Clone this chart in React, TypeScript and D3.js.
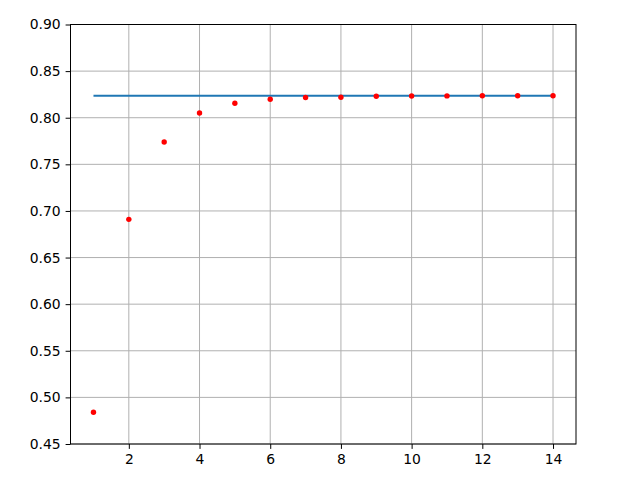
import React, { useEffect, useRef } from 'react';
import * as d3 from 'd3';

const xs = [1, 2, 3, 4, 5, 6, 7, 8, 9, 10, 11, 12, 13, 14];
const scores = [0.484, 0.691, 0.774, 0.805, 0.8155, 0.8198, 0.8217, 0.822, 0.823, 0.8233, 0.8234, 0.8235, 0.8235, 0.8235];
const baseline = 0.8236;
const xTicks = [2, 4, 6, 8, 10, 12, 14];
const yTicks = [0.45, 0.5, 0.55, 0.6, 0.65, 0.7, 0.75, 0.8, 0.85, 0.9];

const App: React.FC = () => {
  const svgRef = useRef<SVGSVGElement>(null);

  useEffect(() => {
    if (!svgRef.current) return;
    const width = 640;
    const height = 480;
    const margin = { top: 24.5, right: 64, bottom: 36, left: 70.5 };
    const w = width - margin.left - margin.right;
    const h = height - margin.top - margin.bottom;

    const svg = d3.select(svgRef.current);
    svg.selectAll('*').remove();

    const g = svg.append('g').attr('transform', `translate(${margin.left},${margin.top})`);

    const x = d3.scaleLinear().domain([0.35, 14.65]).range([0, w]);
    const y = d3.scaleLinear().domain([0.45, 0.9]).range([h, 0]);

    // grid
    g.append('g')
      .selectAll('line.gx')
      .data(xTicks)
      .enter().append('line')
      .attr('x1', d => x(d)).attr('x2', d => x(d))
      .attr('y1', 0).attr('y2', h)
      .attr('stroke', '#b0b0b0').attr('stroke-width', 1);
    g.append('g')
      .selectAll('line.gy')
      .data(yTicks)
      .enter().append('line')
      .attr('x1', 0).attr('x2', w)
      .attr('y1', d => y(d)).attr('y2', d => y(d))
      .attr('stroke', '#b0b0b0').attr('stroke-width', 1);

    // baseline
    const line = d3.line<number>()
      .x(d => x(d))
      .y(() => y(baseline));
    g.append('path')
      .datum([xs[0], xs[xs.length - 1]])
      .attr('fill', 'none')
      .attr('stroke', '#1f77b4')
      .attr('stroke-width', 2)
      .attr('d', line);

    // points
    g.selectAll('circle.pt')
      .data(xs)
      .enter().append('circle')
      .attr('cx', d => x(d))
      .attr('cy', (_, i) => y(scores[i]))
      .attr('r', 2.7)
      .attr('fill', 'red');

    // axes
    const xAxis = g.append('g')
      .attr('transform', `translate(0,${h})`)
      .call(d3.axisBottom(x).tickValues(xTicks).tickSizeOuter(0).tickSize(4.9).tickPadding(5).tickFormat(d3.format('d')));
    const yAxis = g.append('g')
      .call(d3.axisLeft(y).tickValues(yTicks).tickSizeOuter(0).tickSize(4.9).tickPadding(5).tickFormat(d3.format('.2f')));
    [xAxis, yAxis].forEach(a => {
      a.select('.domain').remove();
      a.selectAll('line').attr('stroke', '#000').attr('stroke-width', 1);
      a.selectAll('text')
        .attr('fill', '#000')
        .style('font-family', 'DejaVu Sans')
        .style('font-size', '13.9px');
    });

    // frame
    g.append('rect')
      .attr('x', 0).attr('y', 0)
      .attr('width', w).attr('height', h)
      .attr('fill', 'none')
      .attr('stroke', '#000')
      .attr('stroke-width', 1);
  }, []);

  return (
    <svg
      ref={svgRef}
      width={640}
      height={480}
      style={{ position: 'absolute', left: 0, top: 0, background: '#fff' }}
    />
  );
};

export default App;
